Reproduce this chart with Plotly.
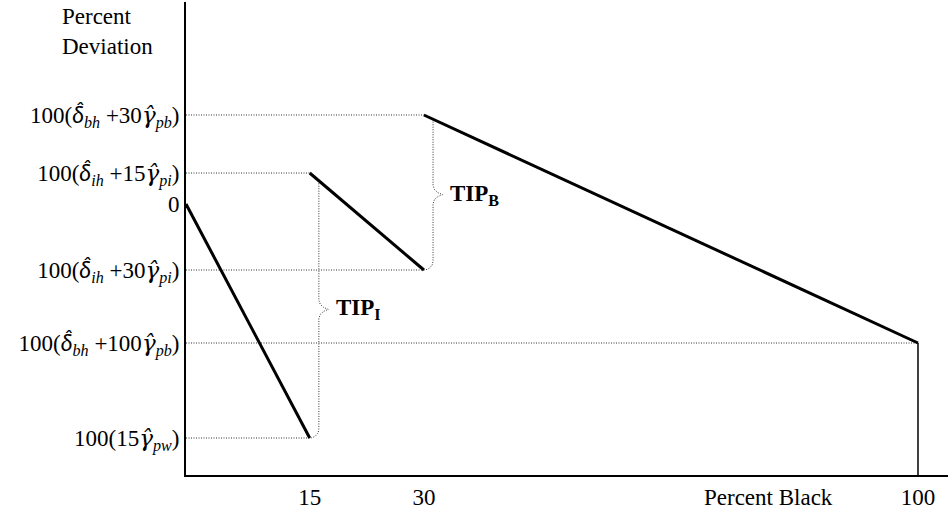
import numpy as np
import plotly.graph_objects as go

# ---- data (schematic positions) ----
x_labels = ["15", "30", "100"]
x_pos = [16.9, 32.5, 100.0]          # where 15, 30, 100 sit on the drawn axis
x_origin = 0.0

# y levels (schematic units, bottom axis = 0)
lvl_zero = 271
lvl_bh30 = 360
lvl_ih15 = 302
lvl_ih30 = 205
lvl_bh100 = 132
lvl_pw15 = 37

D = "<span style='font-family:Lato'><i>δ\u0302</i></span>"
G = "<span style='font-family:DejaVu Serif'><i>γ\u0302</i></span>"

y_tickvals = [lvl_bh30, lvl_ih15, lvl_zero, lvl_ih30, lvl_bh100, lvl_pw15]
y_ticktext = [
    f"100({D}<sub><i>bh</i></sub> +30{G}<sub><i>pb</i></sub>)",
    f"100({D}<sub><i>ih</i></sub> +15{G}<sub><i>pi</i></sub>)",
    "0",
    f"100({D}<sub><i>ih</i></sub> +30{G}<sub><i>pi</i></sub>)",
    f"100({D}<sub><i>bh</i></sub> +100{G}<sub><i>pb</i></sub>)",
    f"100(15{G}<sub><i>pw</i></sub>)",
]

x15, x30, x100 = x_pos

# line segments (x, y)
seg1_x = [x_origin, x15]; seg1_y = [lvl_zero, lvl_pw15]
seg2_x = [x15, x30];      seg2_y = [lvl_ih15, lvl_ih30]
seg3_x = [x30, x100];     seg3_y = [lvl_bh30, lvl_bh100]

# dotted guide lines: (level, end x)
guides = [(lvl_bh30, x30), (lvl_ih15, x15), (lvl_ih30, x30), (lvl_bh100, x100), (lvl_pw15, x15)]

FONT = "Liberation Serif, Times New Roman, serif"
FS = 23
DOT = dict(color="#333", width=1, dash="1px,1.5px")

fig = go.Figure()

for lvl, xe in guides:
    fig.add_trace(go.Scatter(x=[x_origin, xe], y=[lvl, lvl], mode="lines", line=DOT,
                             hoverinfo="skip", showlegend=False))

# vertical solid drop at 100
fig.add_trace(go.Scatter(x=[x100, x100], y=[0, lvl_bh100], mode="lines",
                         line=dict(color="black", width=1.5), hoverinfo="skip", showlegend=False))


def brace(seg_x, seg_y, x0, ybot, dx=1.25, tip=1.3, ry=9.0):
    xb = x0 + dx
    ytop = seg_y[0] + (seg_y[1] - seg_y[0]) * (xb - seg_x[0]) / (seg_x[1] - seg_x[0])
    ym = (ytop + ybot) / 2
    xs = [xb, xb, xb + 0.15 * tip, xb + 0.5 * tip, xb + tip, xb + 0.5 * tip, xb + 0.15 * tip, xb]
    ys = [ytop, ym + 9, ym + 5, ym + 2, ym, ym - 2, ym - 5, ym - 9]
    t = np.linspace(0, np.pi / 2, 10)
    xs += list(x0 + dx * np.cos(t))
    ys += list(ybot + ry - ry * np.sin(t))
    return xs, ys, xb + tip, ym


bi_x, bi_y, ti_x, ti_y = brace(seg2_x, seg2_y, x15, lvl_pw15)
bb_x, bb_y, tb_x, tb_y = brace(seg3_x, seg3_y, x30, lvl_ih30)
for bx, by in [(bi_x, bi_y), (bb_x, bb_y)]:
    fig.add_trace(go.Scatter(x=bx, y=by, mode="lines", line=DOT, hoverinfo="skip", showlegend=False))

for sx, sy in [(seg1_x, seg1_y), (seg2_x, seg2_y), (seg3_x, seg3_y)]:
    fig.add_trace(go.Scatter(x=sx, y=sy, mode="lines", line=dict(color="black", width=3),
                             hoverinfo="skip", showlegend=False))

fig.add_annotation(x=ti_x + 0.7, y=ti_y, xref="x", yref="y", text="<b>TIP<sub>I</sub></b>",
                   showarrow=False, xanchor="left", yanchor="middle",
                   font=dict(family=FONT, size=23, color="black"))
fig.add_annotation(x=tb_x + 0.7, y=tb_y, xref="x", yref="y", text="<b>TIP<sub>B</sub></b>",
                   showarrow=False, xanchor="left", yanchor="middle",
                   font=dict(family=FONT, size=23, color="black"))

fig.add_annotation(x=-0.165, y=1.0, xref="paper", yref="paper", text="Percent<br>Deviation",
                   showarrow=False, xanchor="left", yanchor="top", align="left",
                   font=dict(family=FONT, size=FS, color="black"))
fig.add_annotation(x=79.6, y=-0.047, xref="x", yref="paper", text="Percent Black",
                   showarrow=False, xanchor="center", yanchor="middle",
                   font=dict(family=FONT, size=FS, color="black"))

fig.update_layout(
    width=948, height=512,
    margin=dict(l=186, r=0, t=2, b=37, autoexpand=False),
    paper_bgcolor="white", plot_bgcolor="white",
    font=dict(family=FONT, size=FS, color="black"),
    hovermode=False,
    xaxis=dict(range=[0, 104.1], showgrid=False, zeroline=False, showline=True,
               linecolor="black", linewidth=2, tickvals=x_pos, ticktext=x_labels,
               ticks="", automargin=False),
    yaxis=dict(range=[0, 473], showgrid=False, zeroline=False, showline=True,
               linecolor="black", linewidth=2, tickvals=y_tickvals, ticktext=y_ticktext,
               ticks="", automargin=False),
)

fig.write_html("out.html", config={"displayModeBar": False},
               post_script="document.body.style.margin='0';")
